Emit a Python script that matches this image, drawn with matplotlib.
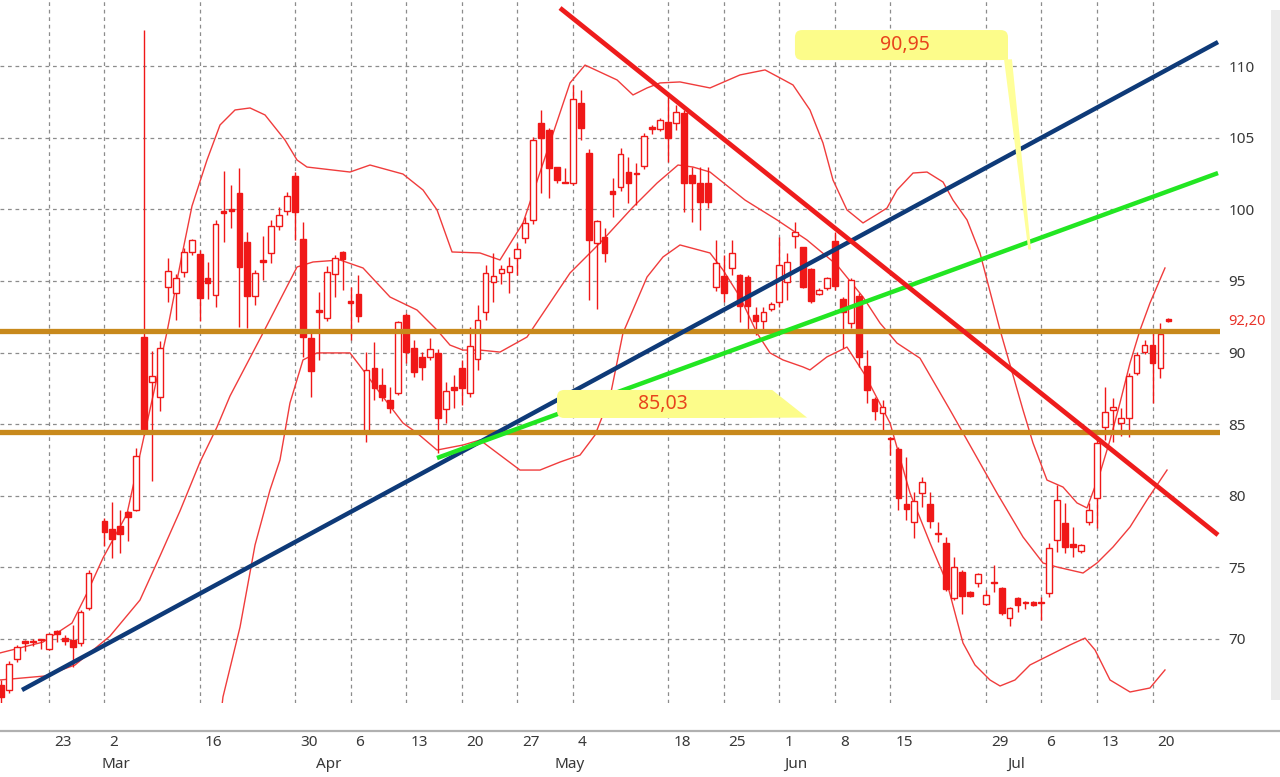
import numpy as np
import matplotlib
matplotlib.use("Agg")
import matplotlib.pyplot as plt
from matplotlib.patches import FancyBboxPatch, Polygon, Rectangle
from matplotlib.lines import Line2D
from matplotlib.transforms import blended_transform_factory, ScaledTranslation

plt.rcParams['font.family'] = ['Noto Sans', 'DejaVu Sans']

# ---------------- data (daily candles, index = trading slot) ----------------
opens = [66.75, 66.40, 68.57, 69.85, 69.75, 69.90, 69.27, 70.52, 70.03, 69.90,
         69.69, 72.13, np.nan, 78.22, 77.65, 77.86, 78.85, 78.99, 91.08, 87.94,
         86.89, 94.58, 94.16, 95.63, 97.03, 96.89, 95.21, 94.02, 99.90, 100.03,
         101.15, 97.73, 93.95, 96.45, 96.96, 98.85, 99.90, 102.34, 97.94, 91.00,
         92.95, 92.41, 95.49, 97.03, 93.60, 94.09, 84.37, 88.92, 87.73, 86.68,
         87.17, 92.62, 90.31, 89.69, 89.69, 89.97, 86.05, 87.59, 88.92, 87.17,
         89.55, 92.83, 94.93, 95.56, 95.63, 96.61, 98.01, 99.27, 106.05, 105.56,
         102.97, 101.90, 101.85, 107.45, 103.95, 97.66, 98.08, 101.29, 101.57, 102.62,
         102.55, 103.04, 105.75, 105.63, 106.12, 106.05, 106.75, 102.41, 101.85, 101.85,
         94.58, 95.35, 95.91, 95.42, 95.28, 92.62, 92.20, 93.04, 93.53, 94.93,
         98.15, 97.38, 95.84, 94.09, 94.51, 97.80, 93.74, 92.06, 93.95, 89.06,
         86.75, 85.77, 84.05, 83.25, 79.41, 78.15, 80.17, 79.41, 77.35, 76.68,
         72.83, 74.65, 73.25, 73.88, 72.41, 73.90, 73.53, 71.43, 72.83, 72.58,
         72.55, 72.50, 73.18, 76.89, 78.08, 76.61, 76.12, 78.15, 79.83, 84.79,
         85.98, 85.07, 85.42, 88.57, 90.03, 90.52, 88.92, 92.34]
highs = [67.10, 68.40, 69.55, 69.90, 70.00, 69.92, 70.40, 70.60, 70.25, 70.94,
         72.00, 74.80, np.nan, 78.40, 79.55, 78.99, 78.90, 83.32, 112.55, 90.10,
         90.80, 96.60, 95.50, 97.30, 97.94, 97.20, 96.33, 99.30, 102.69, 101.71,
         102.90, 98.43, 95.77, 98.15, 99.27, 100.17, 101.20, 102.60, 99.13, 91.57,
         94.23, 96.05, 96.80, 97.10, 94.58, 95.42, 90.03, 90.73, 88.92, 87.59,
         92.20, 92.76, 90.87, 90.03, 91.01, 90.24, 87.94, 88.43, 89.48, 91.78,
         93.32, 96.12, 96.96, 96.12, 96.68, 97.66, 99.48, 105.10, 106.96, 105.70,
         102.97, 102.90, 108.71, 108.36, 104.23, 99.30, 98.71, 102.20, 104.30, 103.67,
         103.25, 105.35, 105.91, 106.40, 108.01, 107.31, 106.96, 102.97, 102.97, 102.97,
         97.87, 96.82, 97.87, 95.50, 95.40, 93.18, 93.18, 93.50, 98.08, 96.96,
         99.13, 97.40, 95.90, 94.50, 95.28, 98.43, 93.88, 95.21, 94.16, 90.17,
         86.89, 86.68, 84.09, 83.39, 82.69, 80.24, 81.29, 80.24, 78.15, 77.10,
         75.70, 74.79, 73.30, 74.58, 73.39, 75.14, 73.60, 72.20, 72.90, 72.62,
         72.60, 72.90, 76.68, 80.73, 79.48, 77.80, 76.60, 79.48, 83.88, 87.59,
         86.82, 86.12, 88.57, 90.03, 90.87, 91.36, 92.06, 92.40]
lows = [65.35, 66.20, 68.35, 69.13, 69.50, 69.30, 69.20, 69.75, 69.55, 68.01,
        69.50, 72.00, np.nan, 76.50, 75.63, 75.98, 76.80, 78.90, 84.23, 81.01,
        85.91, 93.50, 92.27, 95.30, 96.82, 92.20, 93.74, 93.18, 97.73, 98.71,
        91.78, 91.71, 93.32, 95.07, 96.26, 98.60, 99.60, 97.87, 89.69, 86.89,
        89.48, 92.20, 93.88, 94.37, 90.87, 92.13, 83.74, 86.68, 86.60, 85.77,
        87.00, 89.27, 88.29, 88.08, 89.50, 82.97, 85.07, 86.12, 86.33, 86.89,
        88.78, 92.27, 93.53, 94.79, 94.16, 95.42, 97.66, 99.00, 101.15, 100.80,
        101.85, 101.85, 101.70, 104.86, 93.67, 93.04, 96.33, 99.48, 101.30, 100.45,
        100.31, 102.80, 105.28, 105.50, 103.32, 105.56, 99.83, 99.13, 98.57, 100.10,
        94.30, 93.53, 95.42, 92.13, 91.57, 91.22, 91.57, 92.90, 93.18, 93.67,
        97.31, 94.51, 93.46, 94.00, 94.40, 94.37, 90.31, 91.71, 88.99, 86.47,
        85.28, 84.58, 82.83, 78.99, 78.29, 77.03, 79.20, 77.73, 76.75, 73.30,
        72.69, 71.71, 72.90, 73.60, 72.34, 73.25, 71.64, 70.87, 71.85, 72.06,
        72.30, 71.29, 72.90, 76.05, 75.98, 75.70, 76.00, 77.94, 77.73, 83.88,
        83.74, 84.16, 84.09, 88.40, 89.90, 86.47, 88.22, 92.15]
closes = [65.91, 68.22, 69.41, 69.70, 69.80, 69.88, 70.31, 70.31, 69.83, 69.41,
          71.85, 74.58, np.nan, 77.45, 76.96, 77.30, 78.50, 82.76, 84.58, 88.36,
          90.31, 95.70, 95.21, 97.03, 97.87, 93.81, 94.86, 98.99, 99.76, 99.90,
          95.98, 93.95, 95.56, 96.30, 98.85, 99.62, 100.94, 99.83, 91.08, 88.71,
          92.85, 95.63, 96.61, 96.54, 93.45, 92.55, 88.78, 87.52, 86.89, 86.12,
          92.13, 90.03, 88.64, 88.99, 90.24, 85.42, 87.31, 87.38, 87.52, 90.45,
          92.27, 95.56, 95.35, 95.84, 96.05, 97.24, 99.06, 104.86, 105.00, 102.90,
          102.06, 101.85, 107.73, 105.70, 97.87, 99.20, 96.96, 101.08, 103.88, 101.85,
          102.45, 105.14, 105.65, 106.26, 105.00, 106.82, 101.85, 101.85, 100.52, 100.52,
          96.26, 94.16, 96.96, 93.25, 93.25, 92.20, 92.83, 93.39, 96.12, 96.33,
          98.43, 94.58, 93.60, 94.37, 95.21, 94.65, 92.83, 95.07, 89.69, 87.38,
          85.91, 86.19, 83.95, 79.83, 79.06, 79.62, 80.94, 78.22, 77.30, 73.46,
          74.99, 72.97, 72.97, 74.51, 73.04, 73.85, 71.78, 72.13, 72.34, 72.48,
          72.34, 72.48, 76.33, 79.69, 76.40, 76.40, 76.54, 78.99, 83.67, 85.84,
          86.19, 85.42, 88.36, 89.83, 90.52, 89.27, 91.29, 92.20]

# Bollinger bands (x = slot index, y = price)
bb_up_x = [-0.15, 5.27, 8.92, 10.81, 12.82, 15.84, 17.86, 19.62, 20.88, 22.77, 24.03, 25.92,
           27.56, 29.45, 31.34, 33.23, 35.74, 37.26, 38.51, 43.93, 46.45, 50.6, 53.13, 54.89,
           56.78, 60.3, 62.82, 65.72, 71.64, 73.53, 77.56, 79.57, 81.34, 82.97, 85.49, 89.27,
           93.05, 96.2, 98.09, 99.72, 101.86, 103.5, 104.76, 106.52, 108.54, 111.56, 112.82,
           114.84, 116.6, 118.62, 119.87, 121.64, 123.27, 125.8, 128.69, 129.95, 131.71,
           133.73, 135.49, 136.75, 138.39, 139.65, 140.9, 142.17, 143.43, 144.68, 146.57]
bb_up_y = [68.99, 69.75, 71.08, 73.18, 75.63, 78.71, 83.81, 88.22, 91.43, 96.82, 100.24, 103.46,
           105.91, 106.96, 107.10, 106.61, 104.86, 103.46, 102.97, 102.62, 103.11, 102.48, 101.36, 99.97,
           97.03, 96.96, 96.47, 99.06, 108.85, 110.10, 109.06, 108.01, 108.50, 108.85, 108.92, 108.50,
           109.41, 109.76, 109.20, 108.71, 106.96, 104.65, 102.06, 99.97, 99.06, 100.10, 101.36,
           102.55, 102.62, 101.92, 100.66, 99.27, 96.96, 91.57, 85.98, 83.67, 81.08,
           80.59, 79.48, 79.13, 81.57, 83.88, 86.47, 89.27, 91.57, 93.46, 95.91]
bb_mid_x = [-0.15, 5.52, 9.3, 13.7, 17.48, 20.0, 22.52, 25.04, 27.18, 28.82, 32.97, 37.26, 39.27,
            42.67, 45.57, 48.97, 52.37, 54.89, 56.52, 58.16, 60.3, 62.82, 66.22, 71.64, 75.42,
            79.57, 82.6, 85.24, 87.13, 89.27, 93.68, 97.71, 101.48, 105.26, 108.54, 110.68,
            112.82, 115.72, 119.5, 121.64, 125.41, 128.69, 131.21, 132.97, 136.25, 138.01,
            140.03, 142.17, 144.31, 146.83]
bb_mid_y = [67.10, 67.38, 68.15, 70.17, 72.69, 75.77, 78.92, 82.34, 84.79, 86.96, 91.36, 95.98, 96.33,
            96.47, 95.91, 93.88, 92.97, 91.57, 90.52, 90.17, 90.17, 90.03, 91.08, 95.56, 97.66,
            100.17, 101.85, 103.11, 102.97, 102.62, 100.66, 99.27, 97.87, 96.12, 93.88, 92.06,
            90.66, 89.60, 85.98, 83.88, 80.17, 77.10, 75.28, 75.00, 74.58, 75.28,
            76.40, 77.80, 79.69, 81.78]
bb_low_x = [27.31, 27.93, 30.08, 31.97, 33.85, 35.11, 36.37, 38.01, 39.77, 43.93, 45.57, 47.71,
            50.6, 52.37, 54.89, 58.16, 60.3, 62.82, 65.34, 67.86, 70.38, 72.9, 74.79, 76.68,
            78.31, 81.34, 83.35, 85.49, 89.27, 90.91, 93.05, 95.19, 96.83, 98.46, 100.98,
            101.86, 103.99, 106.52, 108.79, 111.94, 114.46, 116.98, 119.12, 121.13, 122.64,
            124.53, 125.8, 127.68, 129.57, 132.09, 134.61, 136.5, 137.76, 139.65, 142.17,
            144.68, 146.57]
bb_low_y = [62.9, 65.91, 70.8, 76.54, 80.38, 82.48, 86.47, 89.48, 89.97, 89.97, 88.78, 87.17,
            85.07, 84.37, 83.18, 83.53, 83.88, 82.83, 81.78, 81.78, 82.34, 82.83, 84.23, 86.89,
            91.36, 95.28, 96.68, 97.52, 96.96, 95.77, 93.88, 91.36, 89.97, 89.48, 88.99,
            88.78, 89.69, 90.38, 88.43, 85.07, 80.17, 76.68, 73.88, 69.69, 68.15,
            67.10, 66.68, 67.10, 68.15, 68.85, 69.55, 70.03, 69.20, 67.10, 66.26,
            66.54, 67.80]

# drawn trend lines (two anchor points each) and horizontal levels
blue_x, blue_y = [2.62, 153.25], [66.40, 111.71]
green_x, green_y = [54.89, 153.25], [82.62, 102.55]
red_x, red_y = [70.38, 153.25], [114.09, 77.24]
levels = [91.50, 84.44]

# axis labels
y_ticks = [70, 75, 80, 85, 90, 95, 100, 105, 110]
day_ticks = [6, 13, 25, 37, 44, 51, 58, 65, 72, 84, 91, 98, 105, 112, 124, 131, 138, 145]
day_labels = ['23', '2', '16', '30', '6', '13', '20', '27', '4', '18', '25', '1', '8', '15',
              '29', '6', '13', '20']
month_pos = [12, 39, 69, 98, 126]
month_labels = ['Mar', 'Apr', 'May', 'Jun', 'Jul']
last_price = 92.20

# callouts
call1_text, call1_x, call1_y = '90,95', 113.83, 111.5
call2_text, call2_x, call2_y = '85,03', 83.35, 86.4

# ---------------- figure ----------------
RED = '#f01818'
fig = plt.figure(figsize=(12.8, 7.77), dpi=100)
fig.patch.set_facecolor('white')
ax = fig.add_axes([0, 1 - 703 / 777, 1220 / 1280, 703 / 777])
ax.set_xlim(-0.15, 153.5)
ax.set_ylim(65.49, 114.65)
for s in ax.spines.values():
    s.set_visible(False)

ax.set_yticks(y_ticks)
ax.set_yticklabels([str(v) for v in y_ticks])
ax.yaxis.tick_right()
ax.tick_params(axis='y', length=0, pad=6, labelsize=11, labelcolor='#383838')
ax.set_xticks(day_ticks)
ax.set_xticklabels([])
ax.tick_params(axis='x', length=0)
ax.grid(True, linestyle=(0, (3, 3)), color='#8c8c8c', linewidth=0.9, zorder=0)
ax.set_axisbelow(True)

# Bollinger bands
for bx, by in [(bb_up_x, bb_up_y), (bb_mid_x, bb_mid_y), (bb_low_x, bb_low_y)]:
    ax.plot(bx, by, color='#f03c3c', lw=1.0, zorder=2)

# candles
for i, (o, h, l, c) in enumerate(zip(opens, highs, lows, closes)):
    if np.isnan(o):
        continue
    ax.vlines(i, l, h, color=RED, lw=1.0, zorder=3)
    bottom = min(o, c)
    height = max(abs(c - o), 0.09)
    up = c >= o
    ax.add_patch(Rectangle((i - 0.36, bottom), 0.72, height,
                           facecolor='white' if up else RED, edgecolor=RED,
                           lw=1.0, zorder=3.5))

# horizontal levels
for lv in levels:
    ax.axhline(lv, color='#c8891c', lw=3.8, zorder=4)

# trend lines
ax.plot(blue_x, blue_y, color='#0e3a78', lw=3.2, solid_capstyle='butt', zorder=5)
ax.plot(green_x, green_y, color='#22e622', lw=3.2, solid_capstyle='butt', zorder=5)
ax.plot(red_x, red_y, color='#ee1c1c', lw=3.4, solid_capstyle='butt', zorder=5)

# callout 1 (top)
YEL = '#fcfc8a'
ax.add_patch(FancyBboxPatch((99.97, 110.45), 126.8 - 99.97, 112.55 - 110.45,
                            boxstyle='round,pad=0,rounding_size=0.9', mutation_aspect=0.555,
                            facecolor=YEL, edgecolor='none', zorder=7))
ax.add_patch(Rectangle((125.6, 110.45), 1.2, 0.7, facecolor=YEL, edgecolor='none', zorder=7))
ax.add_patch(Polygon([(126.3, 110.5), (127.3, 110.5), (129.7, 97.2), (129.35, 97.2)],
                     closed=True, facecolor='#ffff99', edgecolor='none', zorder=7))
ax.text(call1_x, call1_y, call1_text, color='#e8441c', fontsize=14,
        ha='center', va='center', zorder=8)

# callout 2 (middle)
ax.add_patch(FancyBboxPatch((70.0, 85.42), 95.0 - 70.0, 87.38 - 85.42,
                            boxstyle='round,pad=0,rounding_size=0.9', mutation_aspect=0.555,
                            facecolor=YEL, edgecolor='none', zorder=7))
ax.add_patch(Polygon([(93.0, 87.38), (97.1, 87.38), (101.49, 85.45), (93.0, 85.42)],
                     closed=True, facecolor=YEL, edgecolor='none', zorder=7))
ax.text(call2_x, call2_y, call2_text, color='#e8441c', fontsize=14,
        ha='center', va='center', zorder=8)

# last price label
ax.annotate(f'{last_price:.2f}'.replace('.', ','), xy=(1, last_price), xycoords=('axes fraction', 'data'),
            xytext=(6, 0), textcoords='offset points', color='#e8332a', fontsize=10.5,
            ha='left', va='center', annotation_clip=False)

# bottom date labels
off = ScaledTranslation(0.05, 0, fig.dpi_scale_trans)
tr = blended_transform_factory(ax.transData, fig.transFigure) + off
for p, lab in zip(day_ticks, day_labels):
    fig.text(p, 1 - 743 / 777, lab, transform=tr, ha='left', va='center',
             fontsize=11, color='#383838')
for p, lab in zip(month_pos, month_labels):
    fig.text(p, 1 - 764 / 777, lab, transform=tr, ha='left', va='center',
             fontsize=11, color='#383838')

# bottom axis line and right scroll strip
fig.add_artist(Line2D([0, 1], [1 - 731 / 777] * 2, transform=fig.transFigure,
                      color='#b0b0b0', lw=1.6))
fig.add_artist(Rectangle((1271 / 1280, 1 - 700 / 777), 9 / 1280, 690 / 777,
                         transform=fig.transFigure, facecolor='#ececec', edgecolor='none'))

fig.savefig('out.png', dpi=100)
